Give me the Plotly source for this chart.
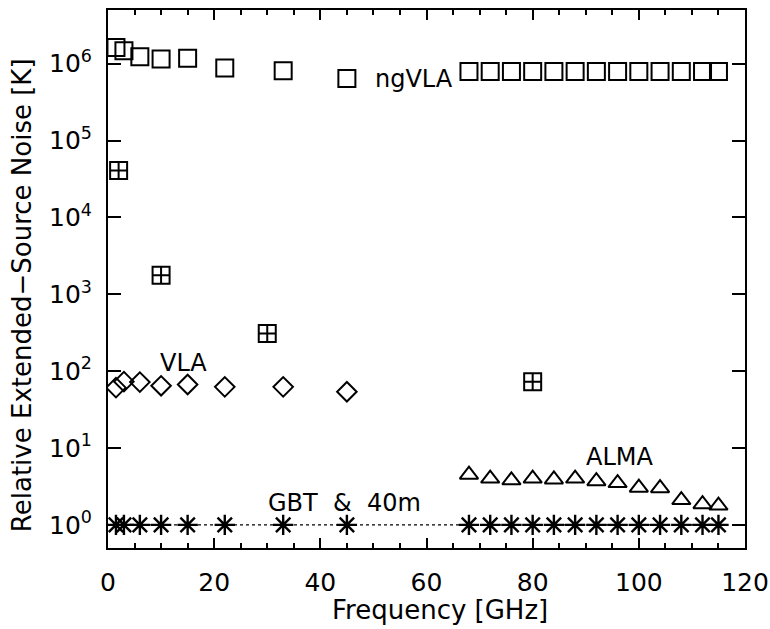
import math
import plotly.graph_objects as go

# ---- data ----
freq_low = [1.5, 3, 6, 10, 15, 22, 33, 45]
freq_alma = [68, 72, 76, 80, 84, 88, 92, 96, 100, 104, 108, 112, 115]

ngvla_low = [1.63e6, 1.47e6, 1.23e6, 1.15e6, 1.18e6, 8.8e5, 8.1e5, 6.4e5]
ngvla_alma = [7.9e5] * 13

freq_cross = [2, 10, 30, 80]
ngvla_cross = [4.07e4, 1.77e3, 3.1e2, 72.6]

vla_low = [61, 73, 72, 64.5, 67, 62.5, 62.5, 54]

alma_vals = [4.5, 4.0, 3.8, 4.0, 3.9, 4.0, 3.7, 3.5, 3.05, 3.0, 2.1, 1.86, 1.78]

gbt_freq = freq_low + freq_alma
gbt_vals = [1.0] * len(gbt_freq)

ytick_vals = [1, 10, 100, 1e3, 1e4, 1e5, 1e6]
ytick_text = ["10<sup>0</sup>", "10<sup>1</sup>", "10<sup>2</sup>", "10<sup>3</sup>",
              "10<sup>4</sup>", "10<sup>5</sup>", "10<sup>6</sup>"]

label_text = ["ngVLA", "VLA", "ALMA", "GBT  &  40m"]
label_x = [57.6, 14.3, 96.4, 44.6]
label_y = [6.4e5, 126, 7.6, 1.95]

x_title = "Frequency [GHz]"
y_title = "Relative Extended\u2212Source Noise [K]"

FONT = "DejaVu Sans"
BLACK = "black"

fig = go.Figure()

# reference dotted line at unity
fig.add_trace(go.Scatter(x=[0, gbt_freq[-1]], y=[1, 1], mode="lines",
                         line=dict(color=BLACK, width=1.2, dash="dot"), showlegend=False))

# ngVLA squares
fig.add_trace(go.Scatter(x=freq_low + freq_alma, y=ngvla_low + ngvla_alma, mode="markers",
                         marker=dict(symbol="square-open", size=17, color=BLACK,
                                     line=dict(width=2, color=BLACK)), showlegend=False))
# ngVLA crossed squares
fig.add_trace(go.Scatter(x=freq_cross, y=ngvla_cross, mode="markers",
                         marker=dict(symbol="square-cross-open", size=17, color=BLACK,
                                     line=dict(width=2, color=BLACK)), showlegend=False))
# VLA diamonds
fig.add_trace(go.Scatter(x=freq_low, y=vla_low, mode="markers",
                         marker=dict(symbol="diamond-open", size=15, color=BLACK,
                                     line=dict(width=2, color=BLACK)), showlegend=False))
# ALMA triangles
fig.add_trace(go.Scatter(x=freq_alma, y=alma_vals, mode="markers",
                         marker=dict(symbol="triangle-up-open", size=16, color=BLACK,
                                     line=dict(width=2, color=BLACK)), showlegend=False))
# GBT & 40m asterisks
fig.add_trace(go.Scatter(x=gbt_freq, y=gbt_vals, mode="markers",
                         marker=dict(symbol="asterisk-open", size=17, color=BLACK,
                                     line=dict(width=2.4, color=BLACK)), showlegend=False))

for txt, lx, ly in zip(label_text, label_x, label_y):
    fig.add_annotation(x=lx, y=math.log10(ly), xref="x", yref="y", text=txt, showarrow=False,
                       font=dict(family=FONT, size=24, color=BLACK), xanchor="center", yanchor="middle")

# axis titles
fig.add_annotation(x=0.521, y=-0.115, xref="paper", yref="paper", text=x_title, showarrow=False,
                   font=dict(family=FONT, size=26, color=BLACK), xanchor="center", yanchor="middle")
fig.add_annotation(x=-0.135, y=0.47, xref="paper", yref="paper", text=y_title, showarrow=False,
                   textangle=-90, font=dict(family=FONT, size=26, color=BLACK),
                   xanchor="center", yanchor="middle")

fig.update_layout(
    template="none",
    width=770, height=629,
    margin=dict(l=108, r=25, t=10, b=81, autoexpand=False),
    paper_bgcolor="white", plot_bgcolor="white",
    font=dict(family=FONT, size=25, color=BLACK),
    showlegend=False,
    xaxis=dict(range=[0, 120], tickmode="linear", tick0=0, dtick=20, automargin=False,
               ticks="inside", ticklen=10, tickwidth=2, tickcolor=BLACK,
               showline=True, linewidth=2, linecolor=BLACK, mirror="ticks",
               showgrid=False, zeroline=False, ticklabelstandoff=11,
               minor=dict(dtick=5, ticks="inside", ticklen=5, tickwidth=1.5, tickcolor=BLACK, showgrid=False)),
    yaxis=dict(type="log", range=[math.log10(0.5), math.log10(5e6)], automargin=False,
               tickmode="array", tickvals=ytick_vals, ticktext=ytick_text,
               ticks="inside", ticklen=13, tickwidth=2, tickcolor=BLACK,
               showline=True, linewidth=2, linecolor=BLACK, mirror="ticks",
               showgrid=False, zeroline=False, ticklabelstandoff=9),
)

fig.write_html("out.html")
